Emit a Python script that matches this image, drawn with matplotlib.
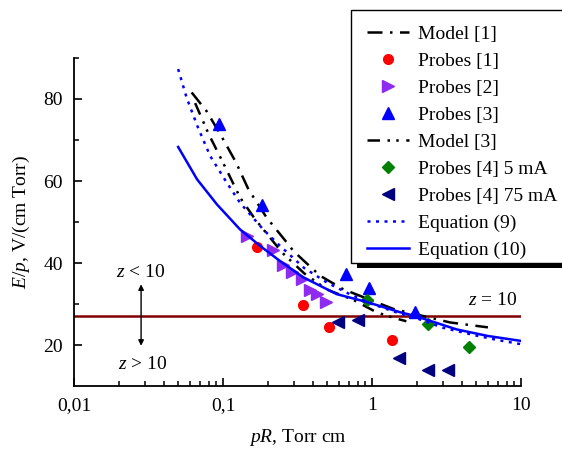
import matplotlib
matplotlib.use("Agg")
import matplotlib.pyplot as plt
from matplotlib.patches import Rectangle
from matplotlib.ticker import FixedLocator, NullFormatter, FuncFormatter, LogLocator

plt.rcParams['font.family'] = ['Liberation Serif', 'DejaVu Serif']
plt.rcParams['mathtext.fontset'] = 'custom'
plt.rcParams['mathtext.rm'] = 'Liberation Serif'
plt.rcParams['mathtext.it'] = 'Liberation Serif:italic'

# Model curves (pR in Torr cm, E/p in V/(cm Torr))
model1_x = [0.0616, 0.0777, 0.098, 0.122, 0.148, 0.196, 0.268, 0.297, 0.448, 0.641, 1.39, 3.34, 6.0]
model1_y = [81.6, 77.0, 70.8, 64.6, 58.0, 51.1, 45.0, 42.9, 36.9, 33.6, 28.8, 25.5, 24.3]

model3_x = [0.065, 0.08, 0.1, 0.13, 0.164, 0.25, 0.35, 0.5, 0.75, 1.07, 1.4, 1.7]
model3_y = [79.0, 71.5, 64.5, 56.0, 50.7, 42.5, 37.5, 33.5, 31.0, 28.0, 26.6, 25.8]

# Equations (9) and (10)
eq9_x = [0.05, 0.057, 0.068, 0.082, 0.106, 0.13, 0.186, 0.241, 0.35, 0.5, 0.7, 1.0, 1.5, 2.0, 3.0, 5.0, 7.0, 10.0]
eq9_y = [87.3, 80.3, 73.0, 66.1, 59.6, 54.7, 48.2, 44.2, 38.8, 35.2, 32.5, 30.0, 27.8, 26.5, 24.2, 22.3, 21.2, 20.2]

eq10_x = [0.05, 0.067, 0.091, 0.13, 0.177, 0.241, 0.346, 0.58, 0.92, 1.54, 1.94, 3.7, 6.0, 10.0]
eq10_y = [68.3, 60.4, 54.3, 48.2, 44.2, 40.5, 36.5, 32.4, 30.5, 28.0, 27.1, 23.8, 22.2, 21.0]

# Probe measurements
probes1_x = [0.168, 0.346, 0.512, 1.36]
probes1_y = [43.8, 29.7, 24.5, 21.3]

probes2_x = [0.144, 0.216, 0.252, 0.289, 0.338, 0.384, 0.425, 0.491]
probes2_y = [46.6, 43.2, 39.5, 37.8, 36.1, 33.4, 32.4, 30.5]

probes3_x = [0.094, 0.183, 0.67, 0.955, 1.94]
probes3_y = [74.0, 54.1, 37.3, 33.9, 28.0]

probes4_5mA_x = [0.921, 2.39, 4.50]
probes4_5mA_y = [30.9, 25.1, 19.4]

probes4_75mA_x = [0.594, 0.809, 1.52, 2.39, 3.25]
probes4_75mA_y = [25.7, 26.2, 16.8, 14.0, 14.0]

z10_level = 27.0

xticks = [0.01, 0.1, 1, 10]
xtick_labels = ['0,01', '0,1', '1', '10']
yticks = [20, 40, 60, 80]

W, H = 562, 453
fig = plt.figure(figsize=(W / 100, H / 100), dpi=100)
ax = fig.add_axes([74 / W, 1 - 386 / H, (521 - 74) / W, (386 - 58) / H])

lw = 1.8
l_m1, = ax.plot(model1_x, model1_y, color='black', lw=lw,
                dashes=(6, 3, 1, 3), label='Model [1]')
l_p1, = ax.plot(probes1_x, probes1_y, 'o', color='#ff0000', ms=7, ls='none', label='Probes [1]')
l_p2, = ax.plot(probes2_x, probes2_y, '>', color='#8f2bf0', ms=8, ls='none', label='Probes [2]')
l_p3, = ax.plot(probes3_x, probes3_y, '^', color='#0000ff', ms=8, ls='none', label='Probes [3]')
l_m3, = ax.plot(model3_x, model3_y, color='black', lw=lw,
                dashes=(5, 3, 1, 2.5, 1, 3), label='Model [3]')
l_p45, = ax.plot(probes4_5mA_x, probes4_5mA_y, 'D', color='#008000', ms=6, ls='none',
                 label='Probes [4] 5 mA')
l_p475, = ax.plot(probes4_75mA_x, probes4_75mA_y, '<', color='#000080', ms=8, ls='none',
                  label='Probes [4] 75 mA')
l_e9, = ax.plot(eq9_x, eq9_y, color='#0000ff', lw=lw, dashes=(1.2, 2.2), label='Equation (9)')
l_e10, = ax.plot(eq10_x, eq10_y, color='#0000ff', lw=lw, label='Equation (10)')

ax.axhline(z10_level, color='#800000', lw=1.8, zorder=1)

ax.set_xscale('log')
ax.set_xlim(0.01, 10)
ax.set_ylim(10, 90)

ax.xaxis.set_major_locator(FixedLocator(xticks))
ax.xaxis.set_major_formatter(FuncFormatter(lambda v, p: xtick_labels[xticks.index(v)] if v in xticks else ''))
ax.xaxis.set_minor_locator(LogLocator(base=10, subs=range(2, 10), numticks=20))
ax.xaxis.set_minor_formatter(NullFormatter())
ax.yaxis.set_major_locator(FixedLocator(yticks))
ax.yaxis.set_minor_locator(FixedLocator([30, 50, 70, 90]))

for s in ('top', 'right'):
    ax.spines[s].set_visible(False)
for s in ('left', 'bottom'):
    ax.spines[s].set_linewidth(1.3)

ax.tick_params(which='major', direction='in', length=6, width=1.2, labelsize=14, pad=8)
ax.tick_params(which='minor', direction='in', length=3.5, width=1.1)

ax.set_xlabel('$pR$, Torr cm', fontsize=14, labelpad=9)
ax.set_ylabel('$E$/$p$, V/(cm Torr)', fontsize=14, labelpad=8)

# z regions
ax.annotate('', xy=(0.0282, 19.8), xytext=(0.0282, 34.8),
            arrowprops=dict(arrowstyle='<|-|>', color='black', lw=1.0,
                            mutation_scale=8, shrinkA=0, shrinkB=0))
ax.text(0.0282, 37.6, '$z$ < 10', ha='center', va='center', fontsize=14)
ax.text(0.0290, 15.2, '$z$ > 10', ha='center', va='center', fontsize=14)
ax.text(6.5, 30.8, '$z$ = 10', ha='center', va='center', fontsize=14)

handles = [l_m1, l_p1, l_p2, l_p3, l_m3, l_p45, l_p475, l_e9, l_e10]
leg = fig.legend(handles=handles, loc='upper left',
                 bbox_to_anchor=(351 / W, 1 - 10 / H), bbox_transform=fig.transFigure,
                 fontsize=14, frameon=False,
                 borderpad=0.8, borderaxespad=0, handlelength=2.2, handletextpad=0.45,
                 labelspacing=0.48, numpoints=1)
leg.set_zorder(6)

# legend box with a tighter bottom margin and a drop shadow
fig.canvas.draw()
bb = leg.get_window_extent()
top_px = bb.y1
bottom_px = bb.y0 + 11
box_w = (W + 20) - bb.x0
frame = Rectangle((bb.x0 / W, bottom_px / H), box_w / W, (top_px - bottom_px) / H,
                  transform=fig.transFigure, facecolor='white', edgecolor='black',
                  lw=1.0, zorder=5)
shadow = Rectangle(((bb.x0 + 6) / W, (bottom_px - 5) / H), box_w / W, (top_px - bottom_px) / H,
                   transform=fig.transFigure, facecolor='black', edgecolor='none', zorder=4)
fig.add_artist(shadow)
fig.add_artist(frame)

fig.savefig('out.png', dpi=100)
